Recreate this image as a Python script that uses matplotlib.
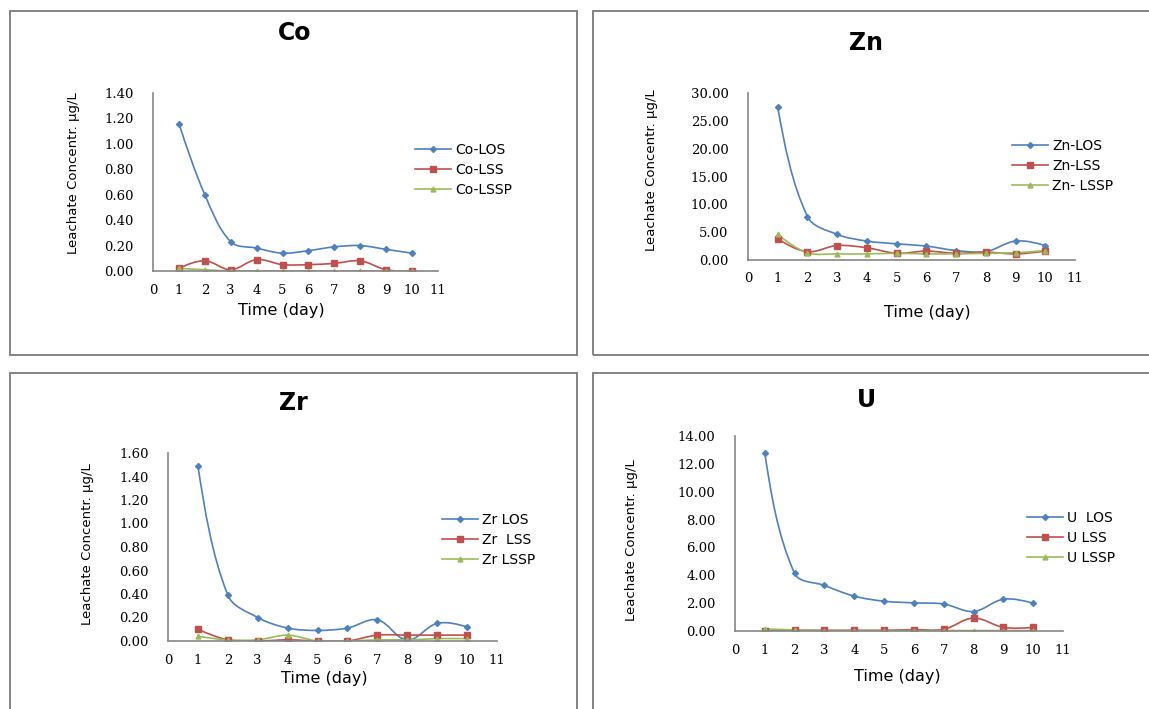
import matplotlib
matplotlib.use("Agg")
import matplotlib.pyplot as plt
from matplotlib.lines import Line2D
from matplotlib.patches import Rectangle, PathPatch
from matplotlib.path import Path
import numpy as np

days = [1, 2, 3, 4, 5, 6, 7, 8, 9, 10]

co_los = [1.16, 0.60, 0.23, 0.18, 0.14, 0.16, 0.19, 0.20, 0.17, 0.14]
co_lss = [0.02, 0.08, 0.01, 0.09, 0.05, 0.05, 0.06, 0.08, 0.01, 0.00]
co_lssp = [0.02, 0.01, 0.00, 0.00, 0.00, 0.00, 0.00, 0.00, 0.00, 0.00]

zn_los = [27.40, 7.80, 4.60, 3.40, 2.90, 2.50, 1.70, 1.50, 3.40, 2.60]
zn_lss = [3.80, 1.50, 2.60, 2.20, 1.20, 1.60, 1.20, 1.40, 1.10, 1.60]
zn_lssp = [4.60, 1.30, 1.10, 1.10, 1.20, 1.10, 1.10, 1.20, 1.30, 1.70]

zr_los = [1.49, 0.39, 0.20, 0.11, 0.09, 0.11, 0.18, 0.01, 0.15, 0.12]
zr_lss = [0.10, 0.01, 0.00, 0.01, 0.00, 0.00, 0.05, 0.05, 0.05, 0.05]
zr_lssp = [0.04, 0.01, 0.01, 0.05, 0.00, 0.00, 0.01, 0.01, 0.02, 0.02]

u_los = [12.75, 4.13, 3.27, 2.50, 2.14, 2.02, 1.94, 1.40, 2.28, 1.99]
u_lss = [0.00, 0.05, 0.05, 0.05, 0.05, 0.10, 0.12, 0.93, 0.26, 0.26]
u_lssp = [0.15, 0.08, 0.03, 0.03, 0.03, 0.03, 0.03, 0.03, 0.03, 0.03]

BLUE = "#4f81bd"
RED = "#c0504d"
GREEN = "#9bbb59"
GRID = "#868686"

W, H = 1149, 709


def fx(px):
    return px / W


def fy(py):
    return 1 - py / H


def smooth_path(axis, xs, ys):
    """Bezier path through the points, tangents worked out on screen"""
    pts = axis.transData.transform(np.column_stack([xs, ys]))
    n = len(pts)
    tang = []
    for i in range(n):
        a = pts[max(i - 1, 0)]
        b = pts[min(i + 1, n - 1)]
        d = b - a
        tang.append(d / (np.hypot(*d) or 1.0))
    verts = [pts[0]]
    codes = [Path.MOVETO]
    for i in range(n - 1):
        p1, p2 = pts[i], pts[i + 1]
        dist = np.hypot(*(p2 - p1)) / 3
        c1 = p1 + tang[i] * dist
        c2 = p2 - tang[i + 1] * dist
        # ends: lean the first/last handle on the inner one
        if i == 0:
            c1 = p1 + (c2 - p1) / 2
        if i == n - 2:
            c2 = p2 + (c1 - p2) / 2
        verts += [c1, c2, p2]
        codes += [Path.CURVE4] * 3
    verts = axis.transData.inverted().transform(np.array(verts))
    return Path(verts, codes)


def panel(fig, box, axbox, title, title_xy, series, labels, ymax, ystep,
          ylab_xy, xlab_xy, leg_xy):
    # panel frame
    x0, y0, x1, y1 = box
    fig.patches.append(Rectangle((fx(x0), fy(y1)), fx(x1 - x0), (y1 - y0) / H,
                                 transform=fig.transFigure, fill=False,
                                 edgecolor="#7a7a7a", linewidth=1.3))
    l, t, r, b = axbox
    axis = fig.add_axes([fx(l), fy(b), fx(r - l), (b - t) / H])
    axis.set_xlim(0, 11)
    axis.set_ylim(0, ymax)
    colors = [BLUE, RED, GREEN]
    markers = ["D", "s", "^"]
    sizes = [3, 4, 3.5]
    handles = []
    for vals, col, mk, ms, lab in zip(series, colors, markers, sizes, labels):
        axis.add_patch(PathPatch(smooth_path(axis, days, vals), fill=False,
                                 edgecolor=col, linewidth=1.2))
        axis.plot(days, vals, linestyle="none", marker=mk, markersize=ms,
                  color=col)
        handles.append(Line2D([], [], color=col, linewidth=1.2, marker=mk,
                              markersize=ms, label=lab))
    ticks = np.arange(0, ymax + ystep / 2, ystep)
    axis.set_xticks(range(0, 12))
    axis.set_yticks(ticks)
    axis.set_yticklabels(["%.2f" % v for v in ticks])
    for side in ["top", "right"]:
        axis.spines[side].set_visible(False)
    for side in ["left", "bottom"]:
        axis.spines[side].set_color(GRID)
        axis.spines[side].set_linewidth(1.2)
    axis.tick_params(length=0, labelsize=9.5)
    axis.tick_params(axis="y", pad=14)
    axis.tick_params(axis="x", pad=9)
    for lbl in axis.get_xticklabels() + axis.get_yticklabels():
        lbl.set_family("DejaVu Serif")
    axis.set_facecolor("none")
    fig.text(fx(title_xy[0]), fy(title_xy[1]), title, fontsize=17,
             fontweight="bold", ha="center", va="center")
    fig.text(fx(ylab_xy[0]), fy(ylab_xy[1]), "Leachate Concentr. μg/L",
             fontsize=9.5, rotation=90, ha="center", va="center")
    fig.text(fx(xlab_xy[0]), fy(xlab_xy[1]), "Time (day)", fontsize=11.5,
             ha="center", va="center")
    fig.legend(handles=handles, loc="center left",
               bbox_to_anchor=(fx(leg_xy[0]), fy(leg_xy[1])),
               frameon=False, fontsize=10, handlelength=2.6,
               handletextpad=0.3, labelspacing=0.45, borderpad=0,
               borderaxespad=0)
    return axis


fig = plt.figure(figsize=(W / 100, H / 100), dpi=100)

panel(fig, (10, 11, 577, 355), (153, 93, 438, 271), "Co", (295, 33),
      [co_los, co_lss, co_lssp], ["Co-LOS", "Co-LSS", "Co-LSSP"],
      1.4, 0.2, (73, 173), (281, 310), (415, 170))

panel(fig, (593, 11, 1160, 355), (748, 93, 1075, 260), "Zn", (866, 43),
      [zn_los, zn_lss, zn_lssp], ["Zn-LOS", "Zn-LSS", "Zn- LSSP"],
      30, 5, (652, 170), (927, 313), (1012, 166))

panel(fig, (10, 373, 577, 720), (168, 453, 497, 641), "Zr", (293, 403),
      [zr_los, zr_lss, zr_lssp], ["Zr LOS", "Zr  LSS", "Zr LSSP"],
      1.6, 0.2, (88, 544), (324, 679), (442, 540))

panel(fig, (593, 373, 1160, 720), (735, 436, 1063, 631), "U", (866, 400),
      [u_los, u_lss, u_lssp], ["U  LOS", "U LSS", "U LSSP"],
      14, 2, (632, 540), (897, 677), (1027, 538))

fig.savefig("out.png", dpi=100)
